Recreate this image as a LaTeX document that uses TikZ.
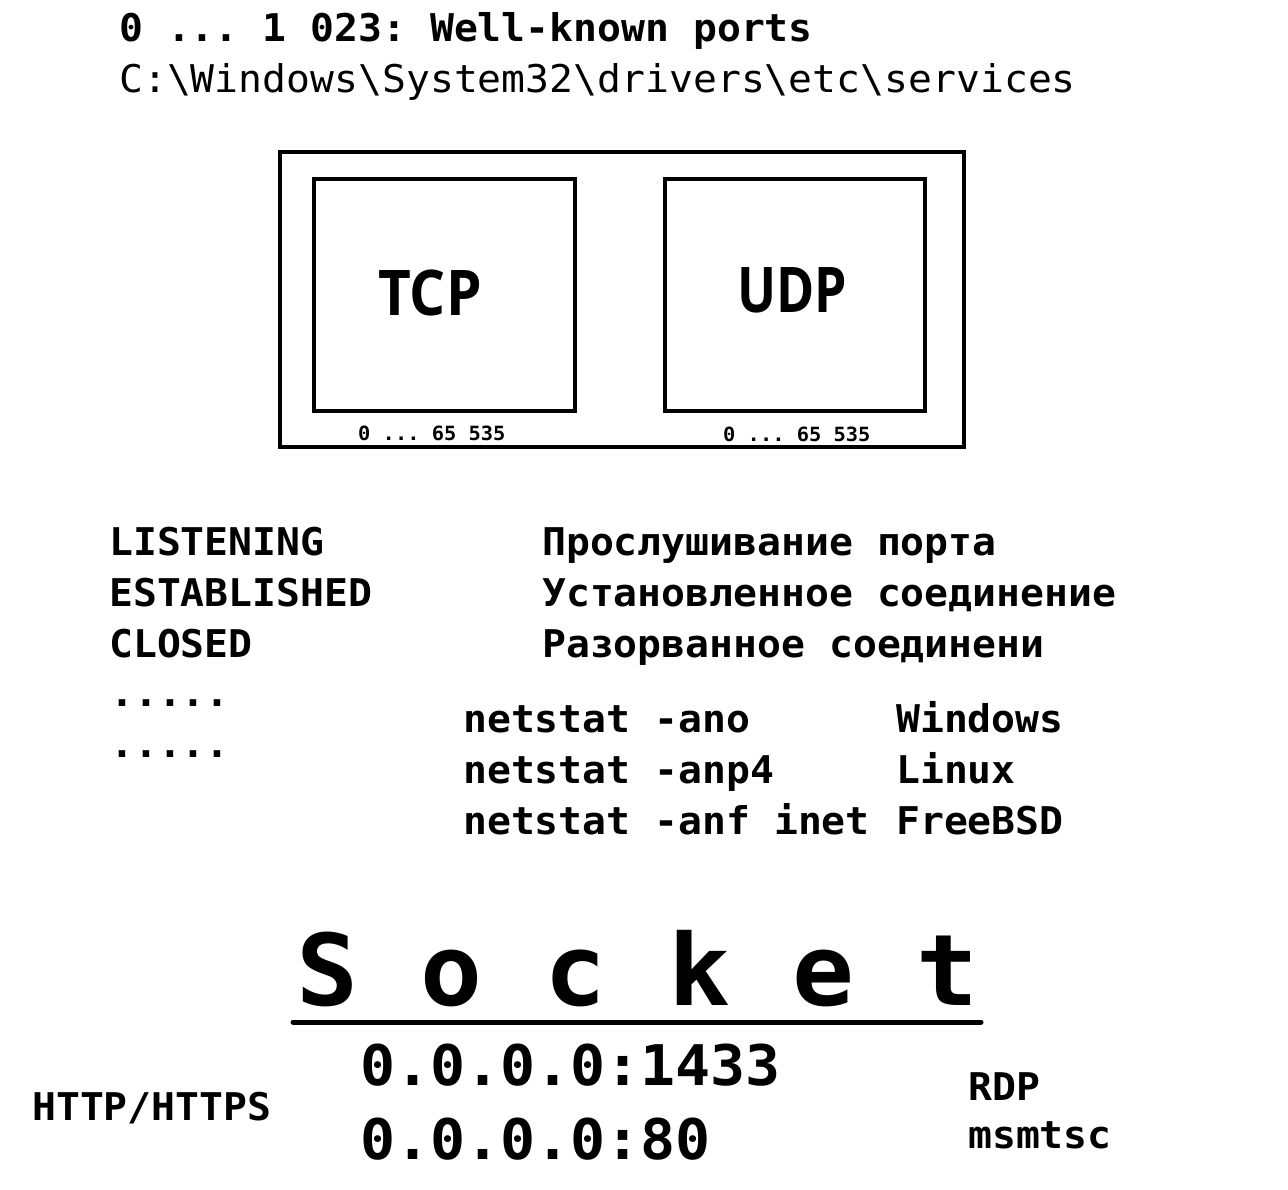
\documentclass[tikz,border=0pt]{standalone}
\usepackage{fontspec}
\usepackage{graphicx}
\frenchspacing
\newfontfamily\mono[FakeStretch=1.04]{DejaVu Sans Mono}
\newfontfamily\proto{Open Sans}
\tikzset{
  txt/.style={inner sep=0pt, anchor=base west},
  mid/.style={txt, font=\mono\bfseries\fontsize{38.2pt}{40pt}\selectfont},
  midreg/.style={txt, font=\mono\fontsize{38.2pt}{40pt}\selectfont},
  small/.style={txt, font=\mono\bfseries\fontsize{19.6pt}{20pt}\selectfont},
  big/.style={txt, font=\mono\bfseries\fontsize{56pt}{58pt}\selectfont},
  huge/.style={txt, font=\mono\bfseries\fontsize{99pt}{100pt}\selectfont},
  protolbl/.style={inner sep=0pt, anchor=base, font=\proto\bfseries\fontsize{63pt}{64pt}\selectfont},
  frame/.style={draw, line width=4.5pt, inner sep=0pt}
}
\begin{document}
\begin{tikzpicture}[x=1pt,y=-1pt]
\useasboundingbox[fill=white] (0,0) rectangle (1288,1190);
% header
\node[mid] (h1) at (119,42) {0 ... 1 023: Well-known ports};
\node[midreg] (h2) at (119,93) {C:\string\Windows\string\System32\string\drivers\string\etc\string\services};
% boxes
\node[frame, minimum width=684pt, minimum height=295pt] (outer) at (622,299.5) {};
\node[frame, minimum width=261pt, minimum height=232pt] (tcp) at (444.5,295) {};
\node[frame, minimum width=260pt, minimum height=232pt] (udp) at (795,295) {};
\node[protolbl] (tcpl) at (430,316) {\scalebox{0.9}[1]{TCP}};
\node[protolbl] (udpl) at (792,313) {\scalebox{0.82}[1]{UDP}};
\node[small] (tcpr) at (358,440) {0 ... 65 535};
\node[small] (udpr) at (723,441) {0 ... 65 535};
% states
\node[mid] (s1) at (109,555) {LISTENING};
\node[mid] (s2) at (109,606) {ESTABLISHED};
\node[mid] (s3) at (109,657) {CLOSED};
\node[mid] (s4) at (110,706) {.....};
\node[mid] (s5) at (110,757) {.....};
\node[mid] (r1) at (542,555) {Прослушивание порта};
\node[mid] (r2) at (542,606) {Установленное соединение};
\node[mid] (r3) at (542,657) {Разорванное соединени};
% netstat
\node[mid] (n1) at (463,732) {netstat -ano};
\node[mid] (n2) at (463,783) {netstat -anp4};
\node[mid] (n3) at (463,834) {netstat -anf inet};
\node[mid] (o1) at (896,732) {Windows};
\node[mid] (o2) at (896,783) {Linux};
\node[mid] (o3) at (896,834) {FreeBSD};
% socket
\node[huge] (sock) at (296,1005) {S o c k e t};
\coordinate (ulA) at (293,1022);
\coordinate (ulB) at (981,1022);
\draw[line width=5pt, line cap=round] (ulA) -- (ulB);
\node[big] (a1) at (360,1085) {0.0.0.0:1433};
\node[big] (a2) at (360,1159) {0.0.0.0:80};
\node[mid] (http) at (32,1120) {HTTP/HTTPS};
\node[mid] (rdp) at (968,1100) {RDP};
\node[mid] (msts) at (968,1148) {msmtsc};
\end{tikzpicture}
\end{document}
